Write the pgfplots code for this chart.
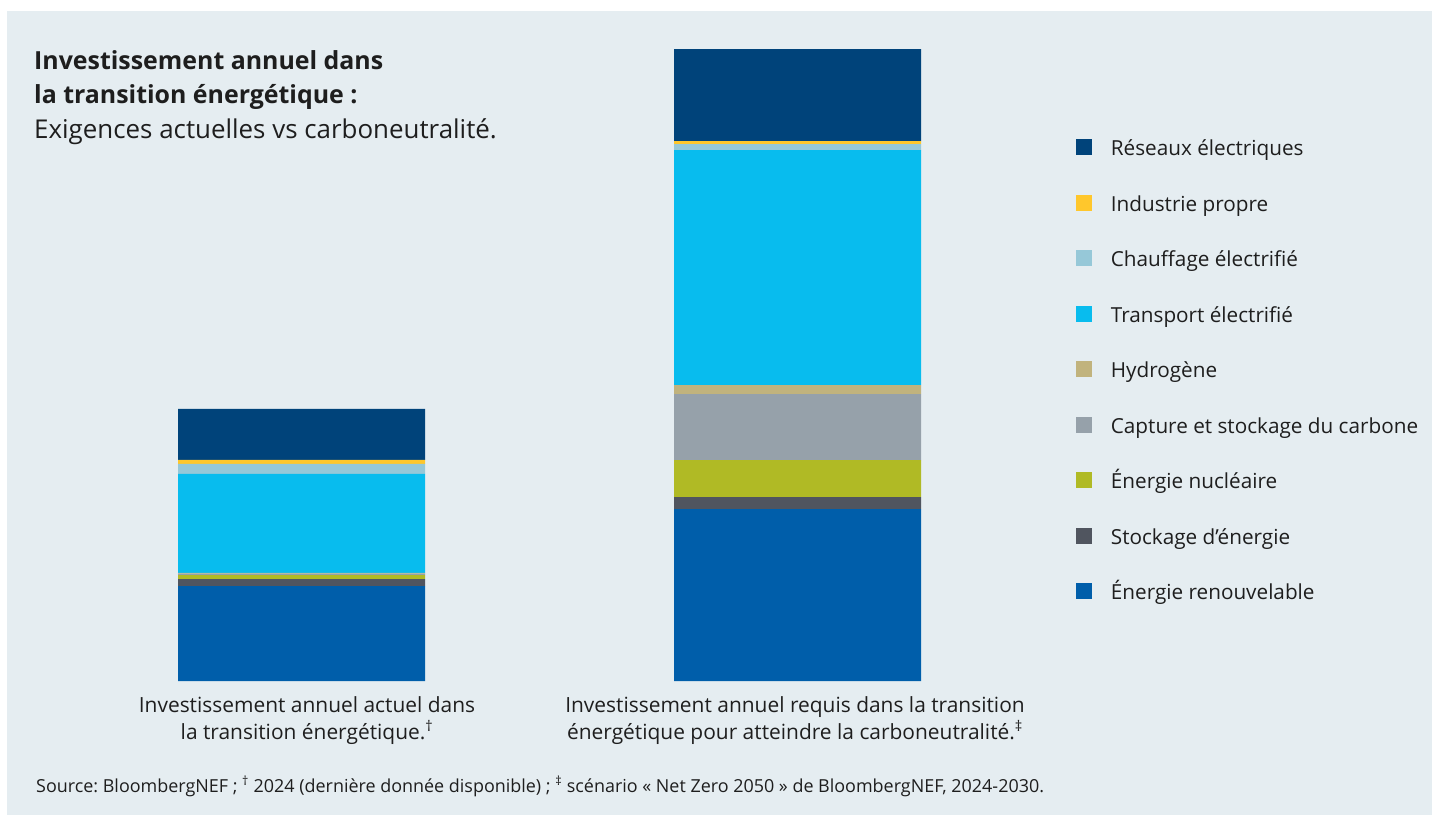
\documentclass[border=0pt]{standalone}
\usepackage{fontspec}
\setmainfont{Open Sans}
\usepackage{pgfplots}
\pgfplotsset{compat=1.18}
\definecolor{bg}{HTML}{E5EDF1}
\definecolor{txt}{HTML}{1E1E1E}
\definecolor{cgrid}{HTML}{00437A}
\definecolor{cind}{HTML}{FFC72C}
\definecolor{cheat}{HTML}{96C8D8}
\definecolor{ctrans}{HTML}{08BCEE}
\definecolor{chyd}{HTML}{C1B37D}
\definecolor{cccs}{HTML}{96A1AA}
\definecolor{cnuc}{HTML}{B0BA25}
\definecolor{cstor}{HTML}{50555F}
\definecolor{cren}{HTML}{005EAA}
\pgfplotsset{sq/.style={fill=#1, draw=none,
  legend image code/.code={\fill[#1] (0bp,-4bp) rectangle (16bp,12bp);}}}
\frenchspacing
\begin{document}
\begin{tikzpicture}[x=1bp,y=1bp]
\fill[white] (0,0) rectangle (1439,826);
\fill[bg] (7,11) rectangle (1432,815);
\begin{axis}[
  at={(0bp,145bp)}, anchor=south west,
  scale only axis, width=1439bp, height=681bp,
  xmin=0, xmax=1439, ymin=0, ymax=681,
  ybar stacked, bar width=247,
  axis line style={draw=none},
  major tick length=0pt,
  ytick=\empty,
  xtick={307,795},
  xticklabels={{Investissement annuel actuel dans\\la transition énergétique.\textsuperscript{†}},
               {Investissement annuel requis dans la transition\\énergétique pour atteindre la carboneutralité.\textsuperscript{‡}}},
  xticklabel style={align=center, anchor=north, inner sep=0pt, yshift=-15bp,
     font=\fontsize{21}{27}\selectfont, text=txt},
  reverse legend,
  legend style={at={(1076/1439,0.7959)}, anchor=north west, draw=none, fill=none,
     inner sep=0pt, row sep=34bp, column sep=18.7bp,
     font=\fontsize{20.8}{22}\selectfont, text=txt,
     nodes={inner sep=0pt, text height=14bp, text depth=5bp}},
  legend cell align=left,
]
\addplot[sq=cren]  coordinates {(301.5,95) (797.5,172)};
\addplot[sq=cstor] coordinates {(301.5,7) (797.5,12)};
\addplot[sq=cnuc]  coordinates {(301.5,4) (797.5,37)};
\addplot[sq=cccs]  coordinates {(301.5,1.5) (797.5,66)};
\addplot[sq=chyd]  coordinates {(301.5,0.7) (797.5,9)};
\addplot[sq=ctrans] coordinates {(301.5,99) (797.5,235)};
\addplot[sq=cheat] coordinates {(301.5,10) (797.5,6)};
\addplot[sq=cind]  coordinates {(301.5,4) (797.5,3)};
\addplot[sq=cgrid] coordinates {(301.5,51) (797.5,92)};
\legend{Énergie renouvelable, Stockage d'énergie, Énergie nucléaire, Capture et stockage du carbone, Hydrogène, Transport électrifié, Chauffage électrifié, Industrie propre, Réseaux électriques}
\end{axis}
\node[anchor=base west, inner sep=0pt, text=txt, font=\fontsize{25}{28}\selectfont\bfseries] at (34,757) {Investissement annuel dans};
\node[anchor=base west, inner sep=0pt, text=txt, font=\fontsize{25}{28}\selectfont\bfseries] at (34,723) {la transition énergétique :};
\node[anchor=base west, inner sep=0pt, text=txt, font=\fontsize{26}{28}\selectfont] at (34,688) {Exigences actuelles vs carboneutralité.};
\node[anchor=base west, inner sep=0pt, text=txt, font=\fontsize{18}{20}\selectfont] at (36,34) {Source: BloombergNEF ; \textsuperscript{†} 2024 (dernière donnée disponible) ; \textsuperscript{‡} scénario « Net Zero 2050 » de BloombergNEF, 2024-2030.};
\end{tikzpicture}
\end{document}
